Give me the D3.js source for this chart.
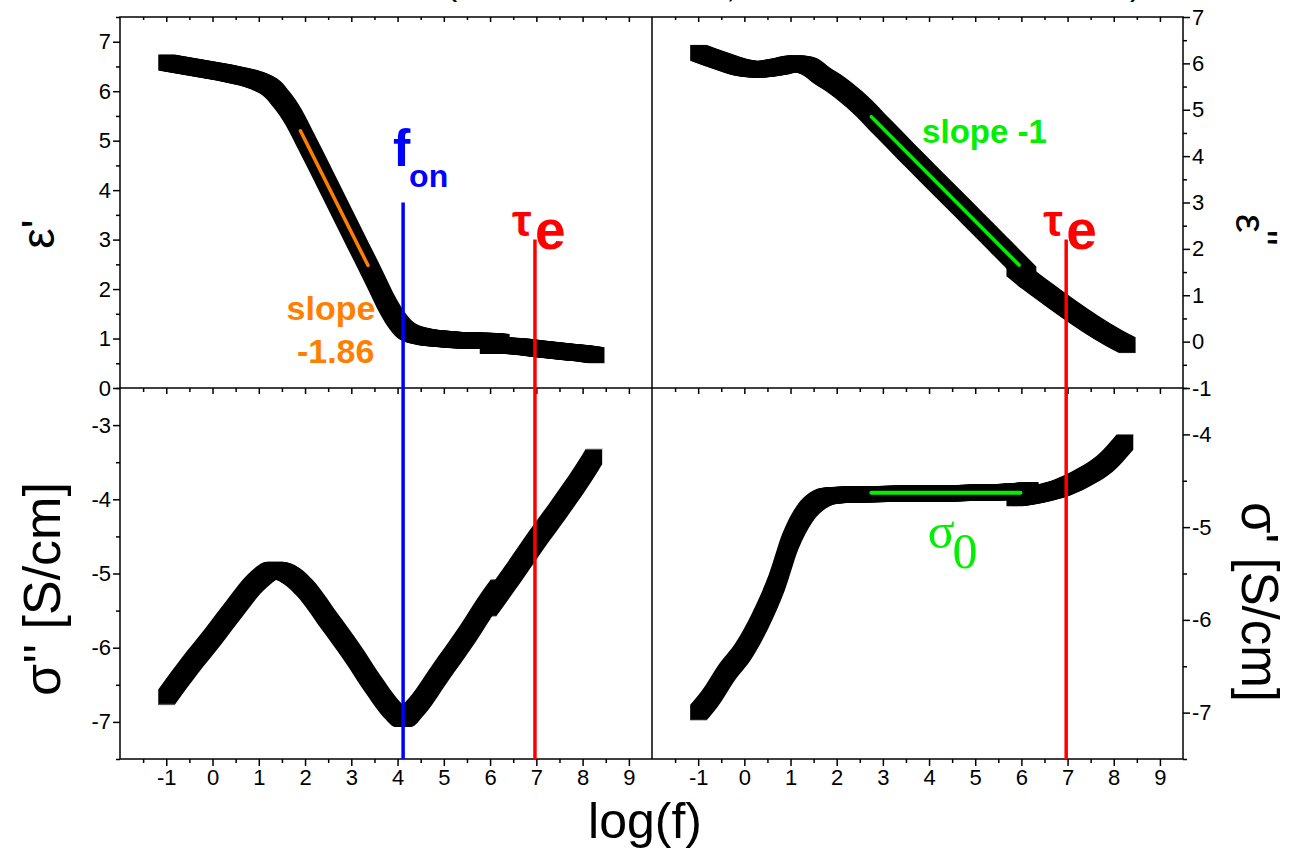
<!DOCTYPE html>
<html>
<head>
<meta charset="utf-8">
<script src="https://cdn.jsdelivr.net/npm/d3@7"></script>
<style>
  html, body { margin: 0; padding: 0; background: #fff; }
  svg { display: block; font-family: "Liberation Sans", Arial, Helvetica, sans-serif; }
</style>
</head>
<body>
<svg id="chart" width="1289" height="850"></svg>
<script>
// ---------- axis ticks ----------
const xMajorTicks = [-1, 0, 1, 2, 3, 4, 5, 6, 7, 8, 9];
const xMinorTicks = [-1.5, -0.5, 0.5, 1.5, 2.5, 3.5, 4.5, 5.5, 6.5, 7.5, 8.5];
const epsReTicks = [0, 1, 2, 3, 4, 5, 6, 7];
const epsReMinor = [0.5, 1.5, 2.5, 3.5, 4.5, 5.5, 6.5, 7.5];
const epsImTicks = [-1, 0, 1, 2, 3, 4, 5, 6, 7];
const epsImMinor = [-0.5, 0.5, 1.5, 2.5, 3.5, 4.5, 5.5, 6.5];
const sigImTicks = [-7, -6, -5, -4, -3];
const sigImMinor = [-7.5, -6.5, -5.5, -4.5, -3.5, -2.5];
const sigReTicks = [-7, -6, -5, -4];
const sigReMinor = [-7.5, -6.5, -5.5, -4.5, -3.5];

// ---------- measured spectra (log f) ----------
// eps' : low-frequency sweep and high-frequency sweep
const epsReLoX = [-1.0, -0.5, 0.0, 0.5, 1.0, 1.3, 1.5, 1.75, 2.0, 2.5, 3.0, 3.5, 3.8, 4.0, 4.2, 4.5, 5.0, 5.5, 6.0, 6.25];
const epsReLoY = [6.58, 6.50, 6.42, 6.33, 6.20, 6.04, 5.82, 5.48, 5.03, 4.10, 3.16, 2.22, 1.65, 1.35, 1.15, 1.05, 0.99, 0.96, 0.95, 0.93];
const epsReHiX = [5.95, 6.25, 6.5, 7.0, 7.5, 8.0, 8.3];
const epsReHiY = [0.85, 0.86, 0.85, 0.80, 0.75, 0.70, 0.66];

// log eps''
const epsImLoX = [-1.0, -0.5, 0.0, 0.3, 0.7, 1.1, 1.4, 1.7, 2.0, 2.5, 3.0, 3.5, 4.0, 4.5, 5.0, 5.5, 6.0, 6.15];
const epsImLoY = [6.23, 6.05, 5.90, 5.87, 5.92, 6.00, 5.94, 5.72, 5.53, 5.12, 4.61, 4.10, 3.60, 3.10, 2.60, 2.10, 1.60, 1.45];
const epsImHiX = [5.85, 6.2, 6.5, 7.0, 7.5, 8.0, 8.3];
const epsImHiY = [1.58, 1.30, 1.08, 0.72, 0.38, 0.08, -0.08];

// log sigma''
const sigImLoX = [-1.0, -0.5, 0.0, 0.5, 1.0, 1.35, 1.7, 2.0, 2.5, 3.0, 3.5, 3.9, 4.12, 4.4, 4.9, 5.5, 6.0, 6.2];
const sigImLoY = [-6.67, -6.25, -5.86, -5.45, -5.08, -4.95, -5.03, -5.20, -5.62, -6.05, -6.52, -6.85, -6.96, -6.80, -6.36, -5.83, -5.35, -5.18];
const sigImHiX = [5.95, 6.5, 7.0, 7.5, 8.0, 8.25];
const sigImHiY = [-5.48, -5.00, -4.55, -4.12, -3.67, -3.42];

// log sigma'
const sigReLoX = [-1.0, -0.75, -0.4, 0.0, 0.35, 0.7, 1.0, 1.3, 1.6, 1.9, 2.5, 3.5, 4.5, 5.5, 6.0, 6.2];
const sigReLoY = [-7.00, -6.85, -6.58, -6.32, -6.00, -5.60, -5.15, -4.86, -4.71, -4.66, -4.645, -4.64, -4.635, -4.625, -4.61, -4.60];
const sigReHiX = [5.85, 6.5, 6.9, 7.4, 7.8, 8.25];
const sigReHiY = [-4.69, -4.63, -4.57, -4.45, -4.32, -4.08];

// ---------- fitted lines and characteristic frequencies ----------
const slopeFitX = [1.9, 3.36];          // eps' power law, slope -1.86
const slopeFitY = [5.20, 2.48];
const unitSlopeX = [2.75, 5.95];        // eps'' slope -1
const unitSlopeY = [4.85, 1.65];
const sigma0X = [2.75, 5.98];           // dc plateau
const sigma0Y = [-4.63, -4.63];
const fOn = 4.12;
const tauE = 6.97;

// ---------- layout ----------
const svg = d3.select("#chart");
const L = 120, M = 652, R = 1183, T = 17, MID = 388, B = 759;
const FONT = "Liberation Sans, Arial, Helvetica, sans-serif";

const xLeft = d3.scaleLinear().domain([-2, 9.5]).range([L, M]);
const xRight = d3.scaleLinear().domain([-2, 9.5]).range([M, R]);
const yEpsRe = d3.scaleLinear().domain([0, 7.5]).range([MID, T]);
const yEpsIm = d3.scaleLinear().domain([-1, 7]).range([MID, T]);
const ySigIm = d3.scaleLinear().domain([-7.5, -2.5]).range([B, MID]);
const ySigRe = d3.scaleLinear().domain([-7.5, -3.5]).range([B, MID]);

// ---------- data bands: dense square symbols ----------
const HALF = 8;
function drawBand(xs, ys, xs2, ys2) {
  const g = svg.append("g");
  const area = d3.area()
    .x(d => d[0])
    .y0(d => d[1] + HALF)
    .y1(d => d[1] - HALF)
    .curve(d3.curveMonotoneX);
  const pts = xs.map((x, i) => [xs2(x), ys2(ys[i])]);
  const dPath = area(pts);
  for (let dx = -HALF; dx <= HALF; dx += 1) {
    g.append("path").attr("d", dPath).attr("fill", "#000")
      .attr("transform", `translate(${dx},0)`);
  }
}
drawBand(epsReLoX, epsReLoY, xLeft, yEpsRe);
drawBand(epsReHiX, epsReHiY, xLeft, yEpsRe);
drawBand(epsImLoX, epsImLoY, xRight, yEpsIm);
drawBand(epsImHiX, epsImHiY, xRight, yEpsIm);
drawBand(sigImLoX, sigImLoY, xLeft, ySigIm);
drawBand(sigImHiX, sigImHiY, xLeft, ySigIm);
drawBand(sigReLoX, sigReLoY, xRight, ySigRe);
drawBand(sigReHiX, sigReHiY, xRight, ySigRe);

// ---------- frame ----------
const frame = svg.append("g").attr("stroke", "#000").attr("stroke-width", 1.5).attr("fill", "none");
frame.append("rect").attr("x", L).attr("y", T).attr("width", R - L).attr("height", B - T);
frame.append("line").attr("x1", L).attr("x2", R).attr("y1", MID).attr("y2", MID);
frame.append("line").attr("x1", M).attr("x2", M).attr("y1", T).attr("y2", B);

// ---------- axes ----------
function styleAxis(sel) {
  sel.attr("font-size", 22).attr("font-family", FONT);
  sel.select(".domain").remove();
  sel.selectAll(".tick line").attr("stroke-width", 1.5);
  sel.selectAll(".tick text").attr("fill", "#000");
}
const fmt = d => String(d);
function addAxis(axis, transform) {
  svg.append("g").attr("transform", transform).call(axis).call(styleAxis);
}
// bottom log(f) axes
[xLeft, xRight].forEach(xs => {
  addAxis(d3.axisBottom(xs).tickValues(xMajorTicks).tickSize(7).tickPadding(3).tickFormat(fmt), `translate(0,${B})`);
  addAxis(d3.axisBottom(xs).tickValues(xMinorTicks).tickSize(4).tickFormat(""), `translate(0,${B})`);
  // top edge and middle divider: inward ticks
  addAxis(d3.axisTop(xs).tickValues(xMajorTicks).tickSize(-5).tickFormat(""), `translate(0,${T})`);
  addAxis(d3.axisTop(xs).tickValues(xMinorTicks).tickSize(-3).tickFormat(""), `translate(0,${T})`);
  addAxis(d3.axisTop(xs).tickValues(xMajorTicks).tickSize(-6).tickFormat(""), `translate(0,${MID})`);
  addAxis(d3.axisTop(xs).tickValues(xMinorTicks).tickSize(-4).tickFormat(""), `translate(0,${MID})`);
});
// left y axes
addAxis(d3.axisLeft(yEpsRe).tickValues(epsReTicks).tickSize(7).tickPadding(2).tickFormat(fmt), `translate(${L},0)`);
addAxis(d3.axisLeft(yEpsRe).tickValues(epsReMinor).tickSize(4).tickFormat(""), `translate(${L},0)`);
addAxis(d3.axisLeft(ySigIm).tickValues(sigImTicks).tickSize(7).tickPadding(2).tickFormat(fmt), `translate(${L},0)`);
addAxis(d3.axisLeft(ySigIm).tickValues(sigImMinor).tickSize(4).tickFormat(""), `translate(${L},0)`);
// right y axes
addAxis(d3.axisRight(yEpsIm).tickValues(epsImTicks).tickSize(7).tickPadding(2).tickFormat(fmt), `translate(${R},0)`);
addAxis(d3.axisRight(yEpsIm).tickValues(epsImMinor).tickSize(4).tickFormat(""), `translate(${R},0)`);
addAxis(d3.axisRight(ySigRe).tickValues(sigReTicks).tickSize(7).tickPadding(2).tickFormat(fmt), `translate(${R},0)`);
addAxis(d3.axisRight(ySigRe).tickValues(sigReMinor).tickSize(4).tickFormat(""), `translate(${R},0)`);

// ---------- fit lines ----------
svg.append("line")
  .attr("x1", xLeft(slopeFitX[0])).attr("y1", yEpsRe(slopeFitY[0]))
  .attr("x2", xLeft(slopeFitX[1])).attr("y2", yEpsRe(slopeFitY[1]))
  .attr("stroke", "#ff8000").attr("stroke-width", 3.5).attr("stroke-linecap", "round");
svg.append("line")
  .attr("x1", xRight(unitSlopeX[0])).attr("y1", yEpsIm(unitSlopeY[0]))
  .attr("x2", xRight(unitSlopeX[1])).attr("y2", yEpsIm(unitSlopeY[1]))
  .attr("stroke", "#00f000").attr("stroke-width", 3.5).attr("stroke-linecap", "round");
svg.append("line")
  .attr("x1", xRight(sigma0X[0])).attr("y1", ySigRe(sigma0Y[0]))
  .attr("x2", xRight(sigma0X[1])).attr("y2", ySigRe(sigma0Y[1]))
  .attr("stroke", "#00f000").attr("stroke-width", 4).attr("stroke-linecap", "round");

// ---------- characteristic frequency markers ----------
const fOnTop = yEpsRe(3.75);
const tauTopLeft = yEpsRe(3.0);
const tauTopRight = yEpsIm(2.2);
svg.append("line").attr("x1", xLeft(fOn)).attr("x2", xLeft(fOn))
  .attr("y1", fOnTop).attr("y2", B).attr("stroke", "#0000ff").attr("stroke-width", 3.5);
svg.append("line").attr("x1", xLeft(tauE)).attr("x2", xLeft(tauE))
  .attr("y1", tauTopLeft).attr("y2", B).attr("stroke", "#ff0000").attr("stroke-width", 3.5);
svg.append("line").attr("x1", xRight(tauE)).attr("x2", xRight(tauE))
  .attr("y1", tauTopRight).attr("y2", B).attr("stroke", "#ff0000").attr("stroke-width", 3.5);

// f_on label
svg.append("text").attr("x", xLeft(fOn) - 10).attr("y", fOnTop - 37)
  .attr("font-size", 52).attr("font-weight", "bold").attr("fill", "#0000ff").text("f");
svg.append("text").attr("x", xLeft(fOn) + 6).attr("y", fOnTop - 16)
  .attr("font-size", 32).attr("font-weight", "bold").attr("fill", "#0000ff").text("on");

// tau_e labels
function tauLabel(x, top) {
  svg.append("text").attr("x", x - 23).attr("y", top - 4)
    .attr("font-size", 44).attr("font-weight", "bold").attr("fill", "#ff0000").text("τ");
  svg.append("text").attr("x", x).attr("y", top + 9)
    .attr("font-size", 55).attr("font-weight", "bold").attr("fill", "#ff0000").text("e");
}
tauLabel(xLeft(tauE), tauTopLeft);
tauLabel(xRight(tauE), tauTopRight);

// slope annotations
svg.append("text").attr("x", xLeft(3.52)).attr("y", yEpsRe(1.37))
  .attr("text-anchor", "end").attr("font-size", 34).attr("font-weight", "bold")
  .attr("fill", "#ff8000").text("slope");
svg.append("text").attr("x", xLeft(3.5)).attr("y", yEpsRe(0.5))
  .attr("text-anchor", "end").attr("font-size", 34).attr("font-weight", "bold")
  .attr("fill", "#ff8000").text("-1.86");
svg.append("text").attr("x", xRight(3.85)).attr("y", yEpsIm(4.28))
  .attr("font-size", 33).attr("font-weight", "bold")
  .attr("fill", "#00f000").text("slope -1");

// sigma_0 label
const s0 = svg.append("text").attr("x", xRight(3.97)).attr("y", ySigRe(-5.22))
  .attr("font-family", "Liberation Serif, Times New Roman, serif")
  .attr("font-size", 50).attr("fill", "#00f000");
s0.append("tspan").text("σ");
s0.append("tspan").attr("dy", 20).attr("dx", -2).text("0");

// ---------- axis titles ----------
svg.append("text").attr("x", 645).attr("y", 838).attr("text-anchor", "middle")
  .attr("font-size", 50).text("log(f)");
svg.append("text").attr("transform", "translate(54,234) rotate(-90)")
  .attr("text-anchor", "middle").attr("font-size", 46).text("ε'");
const eIm = svg.append("text").attr("transform", "translate(1236,230) rotate(90)")
  .attr("text-anchor", "middle").attr("font-size", 42);
eIm.append("tspan").text("ε");
eIm.append("tspan").attr("dy", -12).attr("dx", -3).text("''");
svg.append("text").attr("transform", "translate(60,589) rotate(-90)")
  .attr("text-anchor", "middle").attr("font-size", 52).text("σ'' [S/cm]");
svg.append("text").attr("transform", "translate(1242,602) rotate(90)")
  .attr("text-anchor", "middle").attr("font-size", 51).text("σ' [S/cm]");

// ---------- title (runs above the top edge) ----------
const title = svg.append("g").attr("font-size", 34).attr("fill", "#000");
title.append("text").attr("x", 446).attr("y", -5).text("(");
title.append("text").attr("x", 726).attr("y", -3).text(",");
title.append("text").attr("x", 1130).attr("y", -5).text(")");
</script>
</body>
</html>
